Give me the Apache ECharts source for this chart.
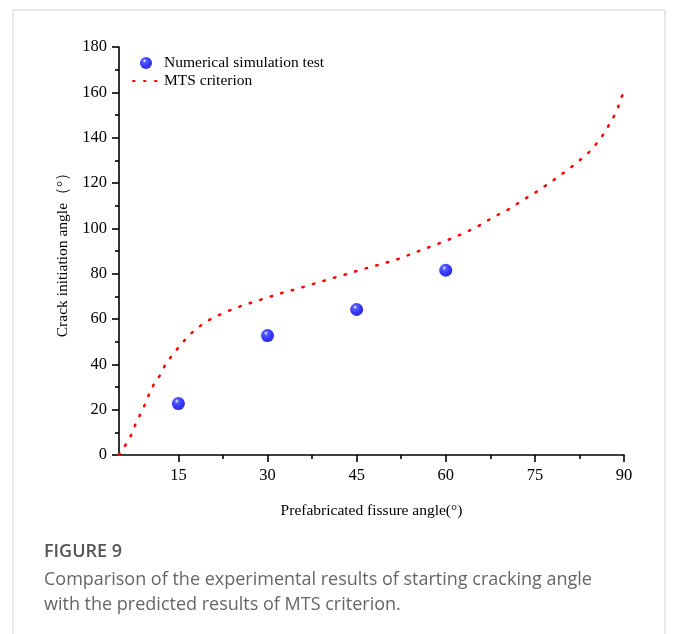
<!DOCTYPE html>
<html>
<head>
<meta charset="utf-8">
<script src="https://cdn.jsdelivr.net/npm/echarts@6/dist/echarts.min.js"></script>
<style>
  html, body { margin: 0; padding: 0; background: #fff; }
  #chart { width: 677px; height: 634px; }
</style>
</head>
<body>
<div id="chart"></div>
<script>
// tick labels
const xTicks = [15, 30, 45, 60, 75, 90]
const xMinorTicks = [22.5, 37.5, 52.5, 67.5, 82.5]

// numerical simulation test (fissure angle, crack initiation angle)
const simAngles = [15, 30, 45, 60]
const simValues = [22.7, 52.7, 64.2, 81.5]

// MTS criterion curve
const mtsAngles = [5, 6, 7, 8, 9, 10, 11, 12, 13, 14, 15, 16, 17.3, 18.8, 20.2, 22, 23.8, 25.5, 27.3, 30,
  32.6, 35, 38, 40.5, 43.6, 46, 49, 52, 54.2, 57.8, 60, 63, 65.5, 68, 70.5, 73.2, 75.5, 78, 80, 82,
  84.6, 86.6, 87.5, 88.4, 89, 89.5, 90]
const mtsValues = [0, 4, 8.5, 15, 20, 26.5, 32, 35.5, 41, 44, 47.5, 50.5, 54, 57.2, 59.6, 61.9, 64, 65.7, 67.2, 69.5,
  71.6, 73.3, 75.7, 77.7, 80, 82, 84.1, 86.5, 88.7, 92.3, 94.5, 97.8, 101, 104.9, 108.3, 112.8, 116.5, 121, 124.8, 128.8,
  134.7, 141.7, 145.7, 149.9, 153.4, 157.6, 160]

const chart = echarts.init(document.getElementById('chart'))

const serif = 'Liberation Serif'
// shaded blue ball like the Origin symbol
const sphere = new echarts.graphic.RadialGradient(0.38, 0.32, 0.7, [
  { offset: 0, color: '#ffffff' },
  { offset: 0.22, color: '#2a36ff' },
  { offset: 0.65, color: '#0000ff' },
  { offset: 1, color: '#0000b0' }
])

const option = {
  animation: false,
  backgroundColor: '#fff',
  grid: { left: 119, right: 53, top: 47, bottom: 179, containLabel: false },
  legend: {
    orient: 'vertical',
    left: 127,
    top: 50,
    itemWidth: 26,
    itemHeight: 12,
    itemGap: 2,
    textStyle: { fontFamily: serif, fontSize: 15.5, color: '#000' },
    data: [
      { name: 'Numerical simulation test', icon: 'circle' },
      { name: 'MTS criterion', itemStyle: { opacity: 0 } }
    ]
  },
  xAxis: [{
    type: 'value',
    min: 5,
    max: 90,
    name: 'Prefabricated fissure angle(°)',
    nameLocation: 'middle',
    nameGap: 48,
    nameTextStyle: { fontFamily: serif, fontSize: 15.5, color: '#000' },
    axisLine: { lineStyle: { color: '#000', width: 1.6 } },
    axisTick: { show: true, customValues: xTicks, length: 7, lineStyle: { color: '#000', width: 1.6 } },
    axisLabel: { customValues: xTicks, fontFamily: serif, fontSize: 16.5, color: '#000', margin: 12 },
    splitLine: { show: false }
  }, {
    // minor ticks only
    type: 'value',
    min: 5,
    max: 90,
    position: 'bottom',
    axisLine: { show: false },
    axisTick: { show: true, customValues: xMinorTicks, length: 4, lineStyle: { color: '#000', width: 1.6 } },
    axisLabel: { show: false },
    splitLine: { show: false }
  }],
  yAxis: {
    type: 'value',
    min: 0,
    max: 180,
    interval: 20,
    name: 'Crack initiation angle（°）',
    nameLocation: 'middle',
    nameGap: 48,
    nameTextStyle: { fontFamily: serif, fontSize: 15.5, color: '#000' },
    axisLine: { show: true, lineStyle: { color: '#000', width: 1.6 } },
    axisTick: { show: true, length: 7, lineStyle: { color: '#000', width: 1.6 } },
    minorTick: { show: true, splitNumber: 2, length: 4, lineStyle: { color: '#000', width: 1.6 } },
    axisLabel: { fontFamily: serif, fontSize: 16.5, color: '#000', margin: 12 },
    splitLine: { show: false }
  },
  series: [{
    name: 'MTS criterion',
    type: 'line',
    symbol: 'none',
    data: mtsAngles.map((a, i) => [a, mtsValues[i]]),
    color: '#ff0000',
    lineStyle: { color: '#ff0000', width: 2.5, type: [1.5, 9.5], cap: 'round' },
    z: 2
  }, {
    name: 'Numerical simulation test',
    type: 'scatter',
    symbol: 'circle',
    symbolSize: 13,
    data: simAngles.map((a, i) => [a, simValues[i]]),
    itemStyle: { color: sphere },
    z: 3
  }],
  graphic: [{
    type: 'rect',
    shape: { x: 13, y: 10, width: 652, height: 640 },
    style: { fill: 'none', stroke: '#d4d4d4', lineWidth: 1 },
    silent: true
  }, {
    type: 'text',
    left: 44,
    top: 543,
    style: { text: 'FIGURE 9', font: '600 18px "Open Sans"', fill: '#555' }
  }, {
    type: 'text',
    left: 44,
    top: 567,
    style: {
      text: 'Comparison of the experimental results of starting cracking angle\nwith the predicted results of MTS criterion.',
      font: '18px "Open Sans"',
      lineHeight: 25,
      fill: '#666'
    }
  }]
}

chart.setOption(option)
</script>
</body>
</html>
